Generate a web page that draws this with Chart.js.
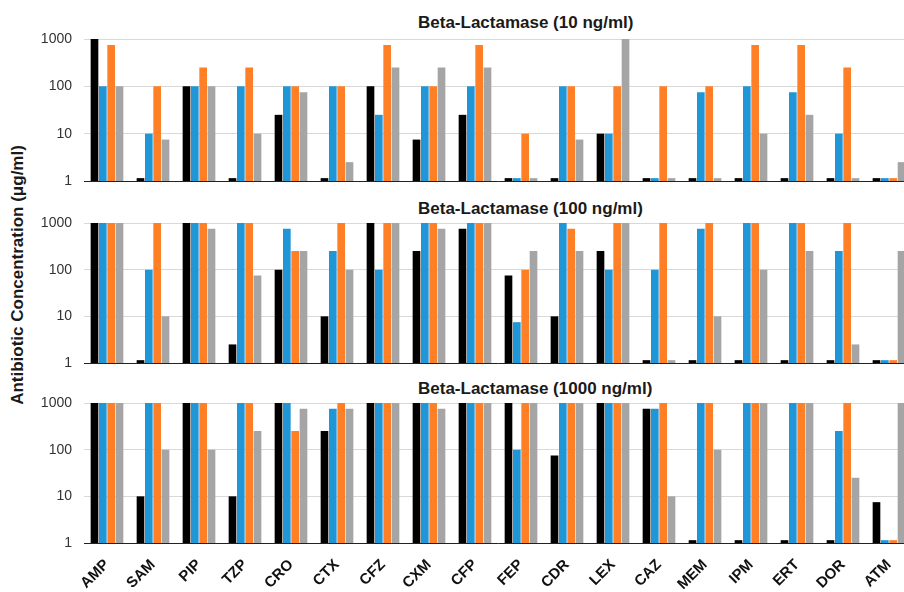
<!DOCTYPE html>
<html>
<head>
<meta charset="utf-8">
<script src="https://cdn.jsdelivr.net/npm/chart.js@4"></script>
<style>
body { margin: 0; width: 904px; height: 592px; overflow: hidden; background: #fff; position: relative; font-family: Arial, "Liberation Sans", sans-serif; }
.panel { position: absolute; left: 0; width: 912px; }
.title { position: absolute; left: 418px; font-weight: bold; font-size: 17px; color: #1a1a1a; white-space: nowrap; line-height: 1; }
#ytitle { position: absolute; left: 18px; top: 275px; transform: translate(-50%, -50%) rotate(-90deg); font-weight: bold; font-size: 17px; color: #1a1a1a; white-space: nowrap; }
</style>
</head>
<body>
<div class="title" style="top:14px">Beta-Lactamase (10 ng/ml)</div>
<div class="title" style="top:200px">Beta-Lactamase (100 ng/ml)</div>
<div class="title" style="top:380px">Beta-Lactamase (1000 ng/ml)</div>
<div id="ytitle">Antibiotic Concentration (μg/ml)</div>
<div class="panel" style="top:29px;height:162px"><canvas id="chart10"></canvas></div>
<div class="panel" style="top:213px;height:160px"><canvas id="chart100"></canvas></div>
<div class="panel" style="top:393px;height:199px"><canvas id="chart1000"></canvas></div>
<script>
var antibiotics = ["AMP", "SAM", "PIP", "TZP", "CRO", "CTX", "CFZ", "CXM", "CFP",
    "FEP", "CDR", "LEX", "CAZ", "MEM", "IPM", "ERT", "DOR", "ATM"];
var yTicks = [1, 10, 100, 1000];

// Beta-Lactamase 10 ng/ml
var black10  = [1000, 1.15, 100, 1.15, 25, 1.15, 100, 7.5, 25, 1.15, 1.15, 10, 1.15, 1.15, 1.15, 1.15, 1.15, 1.15];
var blue10   = [100, 10, 100, 100, 100, 100, 25, 100, 100, 1.15, 100, 10, 1.15, 75, 100, 75, 10, 1.15];
var orange10 = [750, 100, 250, 250, 100, 100, 750, 100, 750, 10, 100, 100, 100, 100, 750, 750, 250, 1.15];
var gray10   = [100, 7.5, 100, 10, 75, 2.5, 250, 250, 250, 1.15, 7.5, 1000, 1.15, 1.15, 10, 25, 1.15, 2.5];

// Beta-Lactamase 100 ng/ml
var black100  = [1000, 1.15, 1000, 2.5, 100, 10, 1000, 250, 750, 75, 10, 250, 1.15, 1.15, 1.15, 1.15, 1.15, 1.15];
var blue100   = [1000, 100, 1000, 1000, 750, 250, 100, 1000, 1000, 7.5, 1000, 100, 100, 750, 1000, 1000, 250, 1.15];
var orange100 = [1000, 1000, 1000, 1000, 250, 1000, 1000, 1000, 1000, 100, 750, 1000, 1000, 1000, 1000, 1000, 1000, 1.15];
var gray100   = [1000, 10, 750, 75, 250, 100, 1000, 750, 1000, 250, 250, 1000, 1.15, 10, 100, 250, 2.5, 250];

// Beta-Lactamase 1000 ng/ml
var black1000  = [1000, 10, 1000, 10, 1000, 250, 1000, 1000, 1000, 1000, 75, 1000, 750, 1.15, 1.15, 1.15, 1.15, 7.5];
var blue1000   = [1000, 1000, 1000, 1000, 1000, 750, 1000, 1000, 1000, 100, 1000, 1000, 750, 1000, 1000, 1000, 250, 1.15];
var orange1000 = [1000, 1000, 1000, 1000, 250, 1000, 1000, 1000, 1000, 1000, 1000, 1000, 1000, 1000, 1000, 1000, 1000, 1.15];
var gray1000   = [1000, 100, 100, 250, 750, 750, 1000, 750, 1000, 1000, 1000, 1000, 10, 100, 1000, 1000, 25, 1000];

var colors = ["#000000", "#2196D6", "#FF7F27", "#A5A5A5"];

Chart.defaults.font.family = 'Arial, "Liberation Sans", sans-serif';
Chart.defaults.color = "#333";

function makeChart(id, series, showLabels) {
    var datasets = series.map(function (values, i) {
        return {
            data: values,
            backgroundColor: colors[i],
            barPercentage: 0.92,
            categoryPercentage: 0.725
        };
    });
    return new Chart(document.getElementById(id), {
        type: 'bar',
        data: { labels: antibiotics, datasets: datasets },
        options: {
            responsive: true,
            maintainAspectRatio: false,
            animation: false,
            layout: { padding: { top: 10, bottom: showLabels ? 0 : 10, left: 0, right: 0 } },
            plugins: { legend: { display: false }, tooltip: { enabled: false } },
            scales: {
                x: {
                    grid: { display: false, drawTicks: false },
                    border: { display: true, color: "#222", width: 1 },
                    ticks: {
                        display: showLabels,
                        autoSkip: false,
                        minRotation: 45,
                        maxRotation: 45,
                        padding: 13,
                        color: "#111",
                        font: { size: 15, weight: 'bold' }
                    },
                    afterFit: function (scale) {
                        scale.height = showLabels ? 49 : 0;
                        scale.paddingLeft = 0;
                        scale.paddingRight = 0;
                    }
                },
                y: {
                    type: 'logarithmic',
                    min: 1,
                    max: 1000,
                    grid: { color: "#d9d9d9", drawTicks: false },
                    border: { display: false },
                    ticks: {
                        padding: 12,
                        color: "#333",
                        font: { size: 14 },
                        callback: function (v) { return String(v); }
                    },
                    afterBuildTicks: function (scale) {
                        scale.ticks = yTicks.map(function (v) { return { value: v }; });
                    },
                    afterFit: function (scale) {
                        scale.width = 84;
                        scale.paddingTop = 0;
                        scale.paddingBottom = 0;
                    }
                }
            }
        }
    });
}

var chart10 = makeChart('chart10', [black10, blue10, orange10, gray10], false);
var chart100 = makeChart('chart100', [black100, blue100, orange100, gray100], false);
var chart1000 = makeChart('chart1000', [black1000, blue1000, orange1000, gray1000], true);
</script>
</body>
</html>
